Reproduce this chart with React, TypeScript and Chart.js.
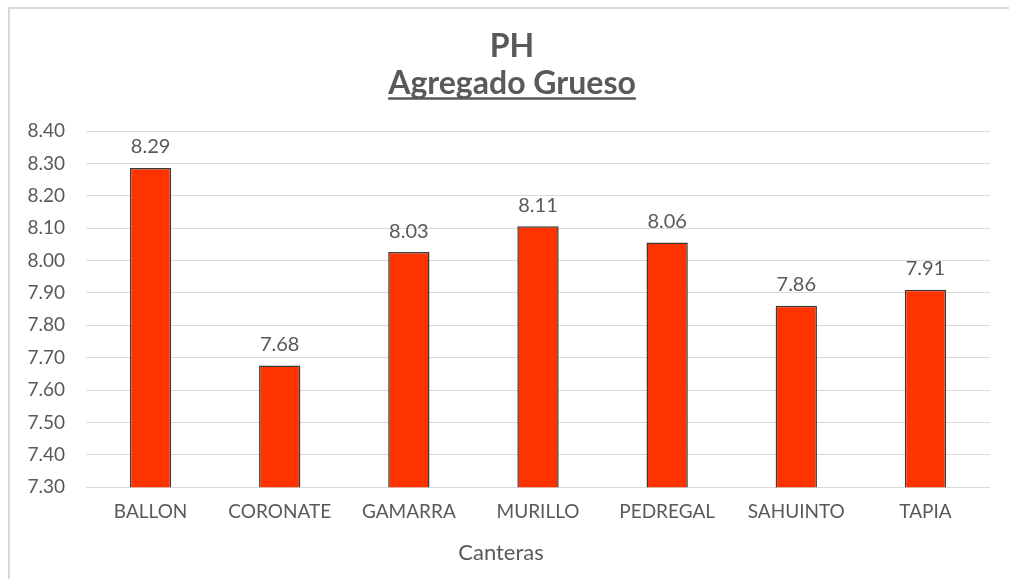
import React, { useEffect, useRef } from "react";
import { Chart, registerables } from "chart.js";

Chart.register(...registerables);

const categories = ["BALLON", "CORONATE", "GAMARRA", "MURILLO", "PEDREGAL", "SAHUINTO", "TAPIA"];
const phValues = [8.286, 7.676, 8.026, 8.106, 8.056, 7.86, 7.91];
const chartTitle = "PH";
const chartSubtitle = "Agregado Grueso";
const xAxisTitle = "Canteras";
const yMin = 7.3;
const yMax = 8.4;
const yStep = 0.1;

const FONT = "Lato, 'Open Sans', 'DejaVu Sans', sans-serif";
const TEXT = "#595959";

const valueLabels = {
  id: "valueLabels",
  afterDatasetsDraw(chart: any) {
    const ctx = chart.ctx;
    const meta = chart.getDatasetMeta(0);
    ctx.save();
    ctx.font = `20px ${FONT}`;
    ctx.fillStyle = TEXT;
    ctx.textAlign = "center";
    ctx.textBaseline = "middle";
    meta.data.forEach((bar: any, i: number) => {
      const v = chart.data.datasets[0].data[i] as number;
      ctx.fillText(v.toFixed(2), bar.x, bar.y - 21);
    });
    ctx.restore();
  },
};

const titles = {
  id: "titles",
  afterDraw(chart: any) {
    const ctx = chart.ctx;
    const cx = chart.width / 2 + 7.5;
    ctx.save();
    ctx.fillStyle = TEXT;
    ctx.textAlign = "center";
    ctx.textBaseline = "middle";
    ctx.font = `bold 32px ${FONT}`;
    ctx.fillText(chartTitle, cx, 47);
    ctx.font = `bold 32px ${FONT}`;
    ctx.fillText(chartSubtitle, cx, 84);
    const w = ctx.measureText(chartSubtitle).width;
    ctx.strokeStyle = TEXT;
    ctx.lineWidth = 2.5;
    ctx.beginPath();
    ctx.moveTo(cx - w / 2, 98.5);
    ctx.lineTo(cx + w / 2, 98.5);
    ctx.stroke();
    ctx.font = `22px ${FONT}`;
    const area = chart.chartArea;
    ctx.fillText(xAxisTitle, chart.width / 2 - 3.5, area.bottom + 66);
    ctx.restore();
  },
};

export default function App() {
  const ref = useRef<HTMLCanvasElement>(null);
  useEffect(() => {
    if (!ref.current) return;
    const chart = new Chart(ref.current, {
      type: "bar",
      data: {
        labels: categories,
        datasets: [
          {
            data: phValues,
            backgroundColor: "#FF3300",
            borderColor: "#3a3a3a",
            borderWidth: 1.5,
            categoryPercentage: 1,
            barPercentage: 0.32,
          },
        ],
      },
      options: {
        animation: false,
        responsive: true,
        maintainAspectRatio: false,
        layout: { padding: { left: 10, right: 19, top: 131, bottom: 43 } },
        plugins: {
          legend: { display: false },
          tooltip: { enabled: false },
          title: { display: false },
          subtitle: { display: false },
        },
        scales: {
          x: {
            grid: { display: false, drawTicks: false },
            border: { display: false },
            ticks: { color: TEXT, font: { family: FONT, size: 19 }, padding: 13, maxRotation: 0 },
          },
          y: {
            min: yMin,
            max: yMax,
            grid: { color: "#d9d9d9", lineWidth: 1, drawTicks: false },
            border: { display: false },
            ticks: {
              stepSize: yStep,
              color: TEXT,
              font: { family: FONT, size: 19 },
              padding: 21,
              callback: (v: any) => Number(v).toFixed(2),
            },
            afterFit: (scale: any) => {
              scale.width = 76;
            },
          },
        },
      },
      plugins: [valueLabels, titles],
    });
    return () => chart.destroy();
  }, []);

  return (
    <div style={{ position: "fixed", left: 0, top: 0, width: 1009, height: 579, background: "#fff" }}>
      <div
        style={{
          position: "absolute",
          left: 8,
          top: 7,
          width: 1009,
          height: 579,
          borderTop: "2px solid #d9d9d9",
          borderLeft: "2px solid #d9d9d9",
        }}
      />
      <canvas ref={ref} style={{ position: "absolute", left: 0, top: 0 }} />
    </div>
  );
}
